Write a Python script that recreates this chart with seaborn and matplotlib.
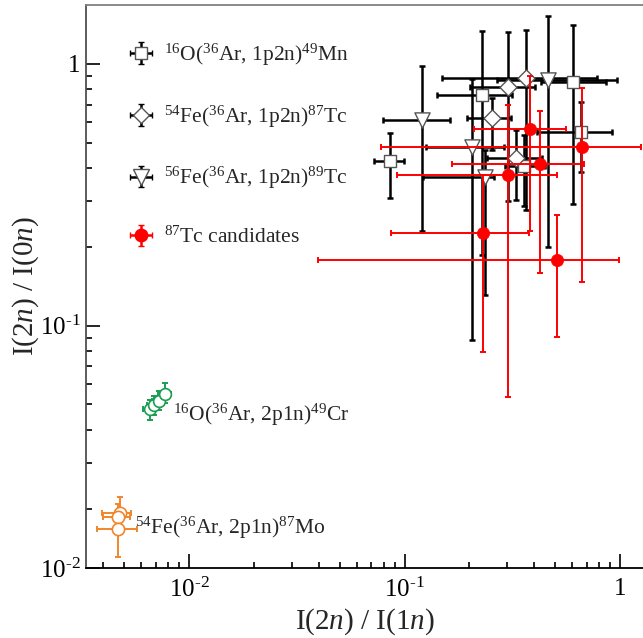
import numpy as np
import matplotlib
matplotlib.use("Agg")
import matplotlib.pyplot as plt
import seaborn as sns
from matplotlib.ticker import FixedLocator, FixedFormatter, LogLocator, NullFormatter

# 16O(36Ar, 1p2n)49Mn
mn_x   = [0.0852, 0.229, 0.607, 0.657, 0.358]
mn_xlo = [0.0723, 0.1415, 0.428, 0.413, 0.294]
mn_xhi = [0.0990, 0.316, 0.858, 0.922, 0.451]
mn_y   = [0.4258, 0.7630, 0.8561, 0.5514, 0.4088]
mn_ylo = [0.3086, 0.1867, 0.2914, 0.3879, 0.2854]
mn_yhi = [0.5466, 1.341, 1.413, 0.7180, 0.5357]

# 54Fe(36Ar, 1p2n)87Tc
tc87_x   = [0.367, 0.303, 0.255, 0.331]
tc87_xlo = [0.149, 0.202, 0.195, 0.242]
tc87_xhi = [0.779, 0.405, 0.3125, 0.436]
tc87_y   = [0.8823, 0.8145, 0.6203, 0.4357]
tc87_ylo = [0.2764, 0.2996, 0.4695, 0.3026]
tc87_yhi = [1.348, 1.326, 0.7414, 0.5595]

# 56Fe(36Ar, 1p2n)89Tc
tc89_x   = [0.1205, 0.2064, 0.237, 0.4645]
tc89_xlo = [0.0793, 0.126, 0.1218, 0.269]
tc89_xhi = [0.162, 0.2887, 0.2594, 0.965]
tc89_y   = [0.6105, 0.4830, 0.3710, 0.8688]
tc89_ylo = [0.2302, 0.0882, 0.1311, 0.2004]
tc89_yhi = [0.9855, 0.8763, 0.4695, 1.530]

# 87Tc candidates
cand_x   = [0.3843, 0.6636, 0.4245, 0.303, 0.2316, 0.5114]
cand_xlo = [0.2094, 0.0777, 0.1662, 0.0922, 0.0865, 0.0397]
cand_xhi = [0.559, 1.248, 0.680, 0.5114, 0.380, 0.989]
cand_y   = [0.5643, 0.4830, 0.4138, 0.3776, 0.2261, 0.1782]
cand_ylo = [0.2307, 0.1473, 0.1586, 0.0535, 0.0796, 0.0908]
cand_yhi = [0.8997, 0.8116, 0.6633, 0.6972, 0.3765, 0.2649]

# 16O(36Ar, 2p1n)49Cr
cr_x   = [0.00657, 0.00688, 0.00723, 0.00771]
cr_xlo = [0.00610, 0.00640, 0.00672, 0.00715]
cr_xhi = [0.00705, 0.00738, 0.00775, 0.00828]
cr_y   = [0.0479, 0.0496, 0.0516, 0.0548]
cr_ylo = [0.0438, 0.0456, 0.0476, 0.0505]
cr_yhi = [0.0522, 0.0539, 0.0561, 0.0602]

# 54Fe(36Ar, 2p1n)87Mo
mo_x   = [0.00476, 0.00468, 0.00468]
mo_xlo = [0.00396, 0.00400, 0.00375]
mo_xhi = [0.00535, 0.00530, 0.00570]
mo_y   = [0.01919, 0.01863, 0.01667]
mo_ylo = [0.01730, 0.01685, 0.01311]
mo_yhi = [0.02212, 0.02089, 0.01865]

y_min, y_max = 0.01186, 1.68
x_min, x_max = 0.00332, 1.28
tick_vals_x = [0.01, 0.1, 1]
tick_vals_y = [y_min, 0.1, 1]
tick_text = ["10$^{\u20102}$", "10$^{\u20101}$", "1"]

lbl_mn = r"$^{16}$O($^{36}$Ar, 1p2n)$^{49}$Mn"
lbl_tc87 = r"$^{54}$Fe($^{36}$Ar, 1p2n)$^{87}$Tc"
lbl_tc89 = r"$^{56}$Fe($^{36}$Ar, 1p2n)$^{89}$Tc"
lbl_cand = r"$^{87}$Tc candidates"
lbl_cr = r"$^{16}$O($^{36}$Ar, 2p1n)$^{49}$Cr"
lbl_mo = r"$^{54}$Fe($^{36}$Ar, 2p1n)$^{87}$Mo"

sns.set_theme(style="ticks")
plt.rcParams['font.family'] = ['Liberation Serif', 'DejaVu Serif']
plt.rcParams['mathtext.fontset'] = 'custom'
plt.rcParams['mathtext.rm'] = 'Liberation Serif'
plt.rcParams['mathtext.it'] = 'Liberation Serif:italic'
plt.rcParams['mathtext.bf'] = 'Liberation Serif:bold'


def barras(ax, x, xlo, xhi, y, ylo, yhi, color, lw, z):
    x, xlo, xhi = np.array(x), np.array(xlo), np.array(xhi)
    y, ylo, yhi = np.array(y), np.array(ylo), np.array(yhi)
    ax.errorbar(x, y, xerr=[x - xlo, xhi - x], yerr=[y - ylo, yhi - y], fmt='none',
                ecolor=color, elinewidth=lw, capsize=2.3, capthick=lw, zorder=z)


def marcas(ax, x, y, marker, size, face, edge, lw, z):
    sns.scatterplot(x=x, y=y, marker=marker, s=size, color=face, edgecolor=edge,
                    linewidth=lw, ax=ax, zorder=z, legend=False)


fig = plt.figure(figsize=(6.43, 6.38), dpi=100)
ax = fig.add_axes([86 / 643, 70 / 638, 557 / 643, 563 / 638])

negro = '#000000'
gris = '#555555'
rojo = '#ff0000'
verde = '#1a9e52'
naranja = '#f0862a'

barras(ax, mn_x, mn_xlo, mn_xhi, mn_y, mn_ylo, mn_yhi, negro, 1.8, 2)
barras(ax, tc87_x, tc87_xlo, tc87_xhi, tc87_y, tc87_ylo, tc87_yhi, negro, 1.8, 2)
barras(ax, tc89_x, tc89_xlo, tc89_xhi, tc89_y, tc89_ylo, tc89_yhi, negro, 1.8, 2)
barras(ax, cand_x, cand_xlo, cand_xhi, cand_y, cand_ylo, cand_yhi, rojo, 1.4, 4)
barras(ax, cr_x, cr_xlo, cr_xhi, cr_y, cr_ylo, cr_yhi, verde, 1.4, 2)
barras(ax, mo_x, mo_xlo, mo_xhi, mo_y, mo_ylo, mo_yhi, naranja, 1.4, 2)

marcas(ax, mn_x, mn_y, 's', 75, 'white', gris, 1.0, 3)
marcas(ax, tc87_x, tc87_y, 'D', 75, 'white', gris, 1.0, 3)
marcas(ax, tc89_x, tc89_y, 'v', 120, 'white', gris, 1.0, 3)
marcas(ax, cand_x, cand_y, 'o', 78, rojo, rojo, 0.5, 5)
marcas(ax, cr_x, cr_y, 'o', 72, 'white', verde, 1.2, 3)
marcas(ax, mo_x, mo_y, 'o', 78, 'white', naranja, 1.2, 3)

ax.set_xscale('log')
ax.set_yscale('log')
ax.set_xlim(x_min, x_max)
ax.set_ylim(y_min, y_max)

ax.xaxis.set_major_locator(FixedLocator(tick_vals_x))
ax.xaxis.set_major_formatter(FixedFormatter(tick_text))
ax.yaxis.set_major_locator(FixedLocator(tick_vals_y))
ax.yaxis.set_major_formatter(FixedFormatter(tick_text))
ax.xaxis.set_minor_locator(LogLocator(base=10, subs=np.arange(2, 10)))
ax.yaxis.set_minor_locator(LogLocator(base=10, subs=np.arange(2, 10)))
ax.xaxis.set_minor_formatter(NullFormatter())
ax.yaxis.set_minor_formatter(NullFormatter())
ax.tick_params(which='major', direction='in', length=10, width=1.2, labelsize=18,
               colors='black')
ax.tick_params(axis='y', which='major', pad=4)
ax.tick_params(axis='x', which='major', pad=7)
ax.tick_params(which='minor', direction='in', length=4.5, width=1.2, colors='black')

ax.spines['right'].set_visible(False)
ax.spines['top'].set_color('#808080')
ax.spines['left'].set_color('#505050')
ax.spines['bottom'].set_color('black')
for s in ['top', 'left', 'bottom']:
    ax.spines[s].set_linewidth(1.3)

ax.set_xlabel(r"I($\mathit{2n}$) / I($\mathit{1n}$)", fontsize=21)
ax.set_ylabel(r"I($\mathit{2n}$) / I($\mathit{0n}$)", fontsize=21)
ax.xaxis.set_label_coords(0.5, -0.068)
ax.yaxis.set_label_coords(-0.08, 0.5)

ax.text(0.0084, 0.0456, lbl_cr, fontsize=15.5, va='center', ha='left')
ax.text(0.00559, 0.01685, lbl_mo, fontsize=15.5, va='center', ha='left')

# proxies for the legend
proxies = []
for mk, ms, face, edge, col in [('s', 8.5, 'white', gris, negro),
                                ('D', 8.5, 'white', gris, negro),
                                ('v', 11, 'white', gris, negro),
                                ('o', 9.0, rojo, rojo, rojo)]:
    h = ax.errorbar([np.nan], [np.nan], xerr=[1], yerr=[1], fmt=mk, ms=ms, mfc=face,
                    mec=edge, mew=1.0, ecolor=col, elinewidth=1.8, capsize=2.3, capthick=1.8)
    proxies.append(h)

ax.legend(proxies, [lbl_mn, lbl_tc87, lbl_tc89, lbl_cand], loc='upper left',
          bbox_to_anchor=(0.075, 0.935), frameon=False, fontsize=15.5, handlelength=1.25,
          handletextpad=0.45, labelspacing=1.65, borderpad=0, borderaxespad=0)

fig.savefig('out.png', dpi=100)
